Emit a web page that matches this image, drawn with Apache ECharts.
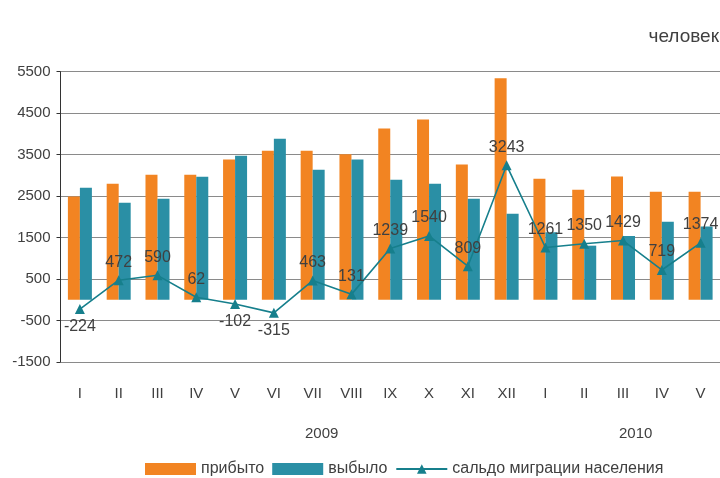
<!DOCTYPE html>
<html>
<head>
<meta charset="utf-8">
<script src="https://cdn.jsdelivr.net/npm/echarts@6/dist/echarts.min.js"></script>
<style>
html,body{margin:0;padding:0;background:#fff;}
#chart{width:720px;height:478px;}
</style>
</head>
<body>
<div id="chart"></div>
<script>
var categories = ['I','II','III','IV','V','VI','VII','VIII','IX','X','XI','XII','I','II','III','IV','V'];
var arrived = [2490, 2800, 3015, 3015, 3380, 3595, 3595, 3510, 4130, 4345, 3260, 5340, 2920, 2655, 2970, 2605, 2605];
var departed = [2700, 2340, 2435, 2965, 3475, 3885, 3135, 3380, 2895, 2800, 2435, 2075, 1630, 1305, 1540, 1880, 1765];
var balance = [-224, 472, 590, 62, -102, -315, 463, 131, 1239, 1540, 809, 3243, 1261, 1350, 1429, 719, 1374];
var seriesNames = ['прибыто', 'выбыло', 'сальдо миграции населения'];
var yearLabels = ['2009', '2010'];
var unitLabel = 'человек';

var FONT = '"Liberation Sans", Arial, sans-serif';
var TXT = '#404040';
var chart = echarts.init(document.getElementById('chart'), null, {renderer: 'canvas'});

var balanceData = balance.map(function (v) {
  return {value: v, label: {position: v < 0 ? 'bottom' : 'top'}};
});

chart.setOption({
  animation: false,
  backgroundColor: '#fff',
  textStyle: {fontFamily: FONT},
  grid: {left: 60.5, top: 71.7, width: 662, height: 290.3, containLabel: false},
  legend: {
    left: 145, top: 461, padding: 0,
    itemWidth: 51, itemHeight: 12, itemGap: 8,
    textStyle: {fontSize: 16, color: TXT, fontFamily: FONT},
    data: [
      {name: seriesNames[0], icon: 'rect'},
      {name: seriesNames[1], icon: 'rect'},
      {name: seriesNames[2]}
    ]
  },
  graphic: [
    {type: 'text', right: 1, top: 27, style: {text: unitLabel, font: '19px ' + FONT, fill: TXT}},
    {type: 'text', left: 305, top: 426, style: {text: yearLabels[0], font: '15px ' + FONT, fill: TXT}},
    {type: 'text', left: 619, top: 426, style: {text: yearLabels[1], font: '15px ' + FONT, fill: TXT}}
  ],
  xAxis: {
    type: 'category',
    data: categories,
    axisLine: {show: false},
    axisTick: {show: false},
    axisLabel: {fontSize: 15, color: TXT, margin: 24, interval: 0, fontFamily: FONT}
  },
  yAxis: {
    type: 'value',
    min: -1500, max: 5500, interval: 1000,
    axisLine: {show: true, lineStyle: {color: '#333', width: 1}},
    axisTick: {show: true, inside: false, length: 4, lineStyle: {color: '#333'}},
    axisLabel: {fontSize: 15, color: TXT, margin: 10, fontFamily: FONT,
      formatter: function (v) { return String(v); }},
    splitLine: {show: true, lineStyle: {color: '#8a8a8a', width: 1.2}}
  },
  series: [
    {
      name: seriesNames[0], type: 'bar', data: arrived,
      barWidth: 12, barGap: '0%',
      itemStyle: {color: '#F28422'}
    },
    {
      name: seriesNames[1], type: 'bar', data: departed,
      barWidth: 12, barGap: '0%',
      itemStyle: {color: '#2A8FA5'}
    },
    {
      name: seriesNames[2], type: 'line', data: balanceData,
      symbol: 'triangle', symbolSize: 10,
      z: 5,
      lineStyle: {color: '#167F8C', width: 1.6},
      itemStyle: {color: '#167F8C'},
      label: {show: true, fontSize: 16, color: TXT, distance: 5, fontFamily: FONT}
    }
  ]
});
</script>
</body>
</html>
